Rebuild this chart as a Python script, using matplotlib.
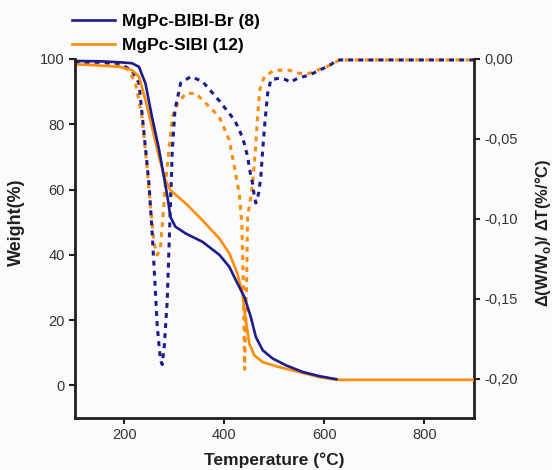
import matplotlib
matplotlib.use("Agg")
import matplotlib.pyplot as plt

# TGA curves (weight %)
t_blue_tga = [100, 150, 190, 215, 229, 242, 255, 269, 279, 286, 292, 302, 323, 356, 390, 410,
              423, 440, 453, 463, 477, 497, 524, 557, 591, 624]
w_blue_tga = [99.4, 99.3, 99.0, 98.7, 97.6, 92.5, 82.3, 72.4, 63.9, 57.8, 51.6, 48.6, 46.5, 44.0,
              40.0, 36.3, 32.2, 27.1, 20.9, 14.8, 10.7, 8.2, 6.1, 4.1, 2.8, 1.9]

t_orange_tga = [100, 150, 190, 215, 229, 242, 255, 269, 282, 292, 323, 356, 390, 410, 426, 436,
                442, 450, 460, 477, 510, 557, 591, 624, 900]
w_orange_tga = [98.4, 98.0, 97.6, 96.6, 94.6, 87.4, 79.2, 70.0, 62.9, 59.8, 55.7, 50.6, 45.0, 40.4,
                34.3, 28.1, 20.9, 12.8, 9.2, 7.1, 5.6, 3.8, 2.5, 1.7, 1.7]

# DTG curves (%/°C)
t_blue_dtg = [100, 150, 188, 215, 229, 239, 249, 255.5, 261, 265.6, 272, 275.6, 280, 285.6, 289,
              292.4, 295.7, 301, 312.5, 332.7, 356, 389.5, 409.6, 419.7, 429.7, 439.8, 446.4, 452,
              456.5, 460, 463, 468.5, 473, 476.6, 481, 486.6, 493, 510, 523.6, 531.6, 547, 570.5,
              590.6, 610.6, 627, 900]
d_blue_dtg = [-0.002, -0.002, -0.0027, -0.007, -0.015, -0.046, -0.078, -0.109, -0.14, -0.167,
              -0.188, -0.191, -0.178, -0.151, -0.119, -0.088, -0.057, -0.032, -0.015, -0.011,
              -0.014, -0.026, -0.034, -0.038, -0.044, -0.0527, -0.061, -0.0715, -0.0778, -0.086,
              -0.09, -0.084, -0.0735, -0.057, -0.040, -0.0215, -0.013, -0.012, -0.013, -0.0146,
              -0.012, -0.010, -0.007, -0.004, -0.0006, -0.0006]

t_orange_dtg = [100, 150, 190, 208.6, 222, 235, 245, 252, 259, 265.5, 272, 277, 282, 289, 296, 306,
                322.6, 342.7, 362.8, 389.5, 409.6, 419.7, 429.7, 435, 437.8, 440.5, 444.4, 446.4,
                451, 456.5, 462, 466.5, 471, 480, 500, 530, 550, 570, 610.6, 630.7, 900]
d_orange_dtg = [-0.003, -0.003, -0.004, -0.007, -0.015, -0.036, -0.067, -0.092, -0.115, -0.1225,
                -0.118, -0.0985, -0.078, -0.057, -0.036, -0.028, -0.0215, -0.0215, -0.0277, -0.036,
                -0.0506, -0.067, -0.084, -0.1027, -0.14, -0.194, -0.14, -0.0985, -0.09, -0.078,
                -0.057, -0.036, -0.019, -0.011, -0.007, -0.007, -0.009, -0.009, -0.004, -0.0006,
                -0.0006]

labels = ["MgPc-BIBI-Br (8)", "MgPc-SIBI (12)"]
x_ticks = [200, 400, 600, 800]
y_ticks = [0, 20, 40, 60, 80, 100]
y2_ticks = [0.0, -0.05, -0.10, -0.15, -0.20]

BLUE = "#1c1c8a"
ORANGE = "#ff8c0a"
DARK = "#231f20"

plt.rcParams["font.family"] = ["Liberation Sans", "DejaVu Sans"]

fig = plt.figure(figsize=(5.52, 4.70), dpi=100, facecolor="#fbfbfd")
ax = fig.add_axes([0.135, 0.1106, 0.724, 0.7639])
ax.set_facecolor("none")
ax2 = ax.twinx()

dots = (0, (1.6, 1.7))
ax2.plot(t_orange_dtg, d_orange_dtg, color=ORANGE, lw=2.2, ls=dots, clip_on=False)
ax2.plot(t_blue_dtg, d_blue_dtg, color=BLUE, lw=2.2, ls=dots, clip_on=False)
l2, = ax.plot(t_orange_tga, w_orange_tga, color=ORANGE, lw=1.9)
l1, = ax.plot(t_blue_tga, w_blue_tga, color=BLUE, lw=1.9)
ax.set_zorder(ax2.get_zorder() + 1)

ax.set_xlim(100, 900)
ax.set_ylim(-10, 100)
ax2.set_ylim(-0.2244, 0)

for a in (ax, ax2):
    for s in a.spines.values():
        s.set_linewidth(2)
        s.set_color(DARK)
    a.spines["top"].set_visible(False)
ax.spines["right"].set_visible(False)
ax2.spines["left"].set_visible(False)
ax2.spines["bottom"].set_visible(False)

ax.set_xticks(x_ticks)
ax.set_yticks(y_ticks)
ax2.set_yticks(y2_ticks)
ax2.set_yticklabels([f"{v:.2f}".replace(".", ",") for v in y2_ticks])
ax.tick_params(axis="both", direction="out", length=4, width=1.5, color=DARK,
               labelsize=10.5, labelcolor="#333333", pad=3)
ax2.tick_params(axis="y", direction="out", length=4, width=1.5, color=DARK,
                labelsize=10.5, labelcolor="#333333", pad=3)

ax.set_xlabel("Temperature (°C)", fontsize=12.5, fontweight="bold", color=DARK)
ax.xaxis.set_label_coords(0.5, -0.095)
ax.set_ylabel("Weight(%)", fontsize=13, fontweight="bold", color=DARK)
ax.yaxis.set_label_coords(-0.124, 0.546)
ax2.set_ylabel("Δ(W/W$_\\mathregular{o}$)/ ΔT(%/°C)", fontsize=12, fontweight="bold",
               color=DARK, rotation=90)
ax2.yaxis.set_label_coords(1.148, 0.515)

fig.legend([l1, l2], labels, loc="upper left", bbox_to_anchor=(0.102, 1.003), frameon=False,
           handlelength=2.5, handletextpad=0.4, labelspacing=0.5,
           prop={"weight": "bold", "size": 12.5})

fig.savefig("out.png", dpi=100, facecolor=fig.get_facecolor())
